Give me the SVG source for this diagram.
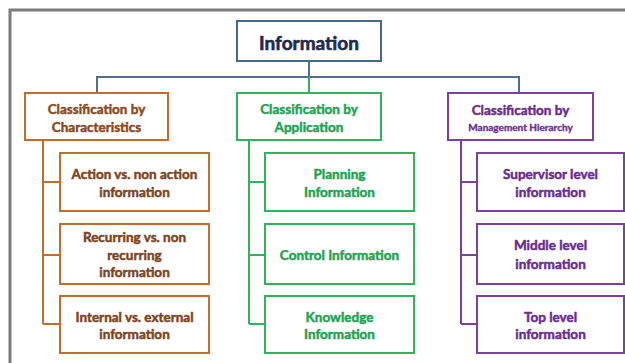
<svg xmlns="http://www.w3.org/2000/svg" width="625" height="363" viewBox="0 0 625 363">
<style>
  text { font-family: Lato, "Open Sans", "Liberation Sans", sans-serif; font-weight: 700; text-anchor: middle; dominant-baseline: central; stroke-width: 0.5; stroke-linejoin: round; }
  .box { fill: #ffffff; stroke-width: 2; }
  .o { stroke: #c26c2e; }
  .g { stroke: #2fb35c; }
  .p { stroke: #7b3fa2; }
  .ot { fill: #7e4320; stroke: #7e4320; font-size: 13.5px; }
  .gt { fill: #23a352; stroke: #23a352; font-size: 13.5px; }
  .pt { fill: #6a2c8e; stroke: #6a2c8e; font-size: 13.5px; }
  .line { fill: none; stroke-width: 2; }
</style>
<rect x="0" y="0" width="625" height="363" fill="#ffffff"/>
<path d="M10,363 V10 H625" fill="none" stroke="#7c7c7c" stroke-width="3"/>

<g id="connectors">
  <path class="line" stroke="#4f6f8c" d="M309,61 V77 M97,93 V77 H519 V93"/>
  <path class="line" stroke="#2fb35c" d="M309,77 V93"/>
  <path class="line" stroke="#c26c2e" d="M43,140 V324 M43,182 H60 M43,255 H60 M43,324 H60"/>
  <path class="line" stroke="#2fb35c" d="M249,140 V324 M249,182 H265 M249,255 H265 M249,324 H265"/>
  <path class="line" stroke="#7b3fa2" d="M461,140 V324 M461,182 H477 M461,255 H477 M461,324 H477"/>
</g>

<g id="root">
  <rect class="box" x="237" y="21" width="144" height="40" stroke="#3f6c87"/>
  <text x="309" y="42" style="font-size:19px;fill:#212b4e;stroke:#212b4e;stroke-width:0.6">Information</text>
</g>

<g id="cat-characteristics">
  <rect class="box o" x="25" y="93" width="143" height="47"/>
  <text class="ot" x="96.5" y="109" style="fill:#8a4a1d;stroke:#8a4a1d">Classification by</text>
  <text class="ot" x="96.5" y="127" style="fill:#8a4a1d;stroke:#8a4a1d">Characteristics</text>
</g>
<g id="cat-application">
  <rect class="box g" x="237" y="93" width="144" height="47"/>
  <text class="gt" x="309" y="109">Classification by</text>
  <text class="gt" x="309" y="127">Application</text>
</g>
<g id="cat-management">
  <rect class="box p" x="448" y="93" width="145" height="47"/>
  <text class="pt" x="520.5" y="110">Classification by</text>
  <text class="pt" x="520.5" y="127" style="font-size:10px;stroke-width:0.35">Management Hierarchy</text>
</g>

<g id="char-action">
  <rect class="box o" x="60" y="153" width="149" height="58"/>
  <text class="ot" x="134.5" y="174">Action vs. non action</text>
  <text class="ot" x="134.5" y="192">information</text>
</g>
<g id="char-recurring">
  <rect class="box o" x="60" y="224" width="149" height="60"/>
  <text class="ot" x="134.5" y="237">Recurring vs. non</text>
  <text class="ot" x="134.5" y="255">recurring</text>
  <text class="ot" x="134.5" y="272">information</text>
</g>
<g id="char-internal">
  <rect class="box o" x="60" y="296" width="149" height="57"/>
  <text class="ot" x="134.5" y="317">Internal vs. external</text>
  <text class="ot" x="134.5" y="334">information</text>
</g>

<g id="app-planning">
  <rect class="box g" x="265" y="153" width="149" height="58"/>
  <text class="gt" x="339.5" y="174">Planning</text>
  <text class="gt" x="339.5" y="192">Information</text>
</g>
<g id="app-control">
  <rect class="box g" x="265" y="224" width="149" height="60"/>
  <text class="gt" x="339.5" y="255">Control Information</text>
</g>
<g id="app-knowledge">
  <rect class="box g" x="265" y="296" width="149" height="57"/>
  <text class="gt" x="339.5" y="317">Knowledge</text>
  <text class="gt" x="339.5" y="334">Information</text>
</g>

<g id="mgmt-supervisor">
  <rect class="box p" x="477" y="153" width="147" height="58"/>
  <text class="pt" x="550.5" y="174">Supervisor level</text>
  <text class="pt" x="550.5" y="192">information</text>
</g>
<g id="mgmt-middle">
  <rect class="box p" x="477" y="224" width="147" height="60"/>
  <text class="pt" x="550.5" y="245">Middle level</text>
  <text class="pt" x="550.5" y="264">information</text>
</g>
<g id="mgmt-top">
  <rect class="box p" x="477" y="296" width="147" height="57"/>
  <text class="pt" x="550.5" y="317">Top level</text>
  <text class="pt" x="550.5" y="334">information</text>
</g>
</svg>
